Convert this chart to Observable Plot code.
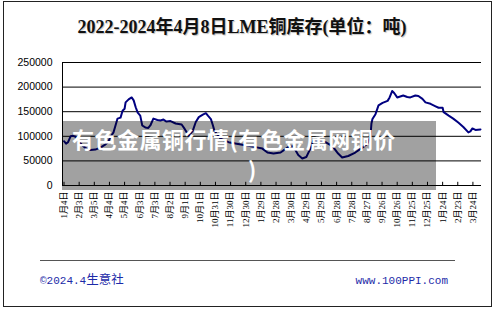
<!DOCTYPE html>
<html>
<head>
<meta charset="utf-8">
<script src="https://cdn.jsdelivr.net/npm/d3@7"></script>
<script src="https://cdn.jsdelivr.net/npm/@observablehq/plot@0.6"></script>
<style>
  html, body { margin: 0; padding: 0; background: #fff; }
  #wrap { position: relative; width: 500px; height: 312px; overflow: hidden; background: #fff; }
  #border { position: absolute; left: 3px; top: 1px; width: 489px; height: 306px; border: 1px solid #222; box-sizing: border-box; }
  #title { position: absolute; left: 3px; width: 478px; top: 17px; text-align: center;
    font: bold 18px/20px "Liberation Serif", "Noto Sans CJK SC", serif; color: #111;
    text-shadow: 1px 1px 1px rgba(0,0,0,0.25); }
  #chart { position: absolute; left: 0; top: 50px; }
  #wm { position: absolute; left: 62px; top: 121px; width: 374px; height: 69px;
    background: rgba(0,0,0,0.37); box-sizing: border-box; padding: 2px 0 0 10px;
    text-align: left; color: #fff; font: bold 22px/30px "Noto Sans CJK SC", sans-serif; letter-spacing: 0.5px; white-space: nowrap; }
  #rule { position: absolute; left: 40px; top: 260px; width: 415px; height: 0; border-top: 1px solid #555; }
  .foot { position: absolute; top: 274px; font: 11px/14px "Liberation Mono", "Noto Sans CJK SC", monospace; color: #1c2aa8; }
</style>
</head>
<body>
<div id="wrap">
  <div id="border"></div>
  <div id="title">2022-2024年4月8日LME铜库存(单位：吨)</div>
  <div id="chart"></div>
  <div id="wm">有色金属铜行情(有色金属网铜价<br><span style="margin-left:176px">)</span></div>
  <div id="rule"></div>
  <div class="foot" style="left:40px">©2024.4<span style="font-size:12.5px">生意社</span></div>
  <div class="foot" style="right:52px">www.100PPI.com</div>
</div>
<script>
const dates = [
"2022-01-04","2022-01-08","2022-01-12","2022-01-17","2022-01-22","2022-01-27","2022-02-02","2022-02-10","2022-02-16","2022-02-25",
"2022-03-07","2022-03-17","2022-03-25","2022-04-01","2022-04-07","2022-04-12","2022-04-16","2022-04-20","2022-04-26","2022-04-30",
"2022-05-04","2022-05-06","2022-05-12","2022-05-18","2022-05-22","2022-05-26","2022-05-30","2022-06-04","2022-06-08","2022-06-14",
"2022-06-20","2022-06-24","2022-06-30","2022-07-08","2022-07-14","2022-07-20","2022-07-26","2022-08-03","2022-08-13","2022-08-19",
"2022-08-25","2022-08-31","2022-09-04","2022-09-08","2022-09-16","2022-09-22","2022-09-28","2022-10-06","2022-10-12","2022-10-16",
"2022-10-22","2022-10-26","2022-10-29","2022-11-10","2022-11-26","2022-12-12","2022-12-29","2023-01-18","2023-02-01","2023-02-11",
"2023-02-23","2023-03-09","2023-03-24","2023-04-03","2023-04-13","2023-04-21","2023-04-29","2023-05-07","2023-05-13","2023-05-23",
"2023-06-06","2023-06-16","2023-06-22","2023-07-01","2023-07-09","2023-07-21","2023-08-04","2023-08-18","2023-08-28","2023-09-03",
"2023-09-05","2023-09-07","2023-09-13","2023-09-19","2023-09-27","2023-10-07","2023-10-11","2023-10-16","2023-10-20","2023-10-26",
"2023-11-01","2023-11-07","2023-11-15","2023-11-21","2023-12-01","2023-12-07","2023-12-15","2023-12-21","2023-12-31","2024-01-10",
"2024-01-16","2024-01-24","2024-01-26","2024-02-05","2024-02-14","2024-02-24","2024-03-05","2024-03-15","2024-03-19","2024-03-23",
"2024-03-29","2024-04-08"];
const stocks = [
90000,85000,88000,100000,101000,99000,90000,81000,76000,72000,
73000,77000,82000,88000,100000,108000,122000,136000,138000,152000,
156000,169000,175000,179000,173000,159000,148000,142000,122000,118000,
117000,122000,136000,133000,132000,134000,130000,131000,126000,125000,
124000,115000,108000,101000,111000,129000,139000,144000,147000,142000,
135000,122000,111000,95000,88000,85000,82000,78000,75000,67000,
65000,67000,78000,80000,62000,55000,58000,75000,92000,90000,
88000,82000,77000,65000,57000,60000,67000,77000,85000,100000,
126000,135000,145000,163000,168000,172000,179000,192000,188000,179000,
181000,183000,180000,179000,183000,182000,176000,169000,166000,161000,
158000,158000,149000,142000,136000,128000,119000,108000,110000,116000,
113000,114000];
const tickDateStr = ["2022-01-04","2022-02-03","2022-03-05","2022-04-04","2022-05-04","2022-06-03","2022-07-03","2022-08-02","2022-09-01","2022-10-01",
"2022-10-31","2022-11-30","2022-12-30","2023-01-29","2023-02-28","2023-03-30","2023-04-29","2023-05-29","2023-06-28","2023-07-28",
"2023-08-27","2023-09-26","2023-10-26","2023-11-25","2023-12-25","2024-01-24","2024-02-23","2024-03-24"];
const tickLabels = ["1月4日","2月3日","3月5日","4月4日","5月4日","6月3日","7月3日","8月2日","9月1日","10月1日",
"10月31日","11月30日","12月30日","1月29日","2月28日","3月30日","4月29日","5月29日","6月28日","7月28日",
"8月27日","9月26日","10月26日","11月25日","12月25日","1月24日","2月23日","3月24日"];
const yTicks = [0, 50000, 100000, 150000, 200000, 250000];

const data = dates.map((d, i) => ({date: new Date(d), value: stocks[i]}));
const tickDates = tickDateStr.map(d => new Date(d));
const labelOf = new Map(tickDates.map((d, i) => [+d, tickLabels[i]]));
const xStart = new Date("2022-01-01");

const chart = Plot.plot({
  width: 500, height: 200,
  marginLeft: 62, marginRight: 19, marginTop: 12, marginBottom: 65,
  x: {type: "utc", domain: [xStart, new Date("2024-04-10")]},
  y: {domain: [0, 250000]},
  style: {background: "transparent", color: "#000"},
  marks: [
    Plot.ruleY(yTicks, {stroke: "#000", strokeWidth: 1}),
    Plot.ruleX([xStart], {y1: () => 0, y2: () => 250000, stroke: "#000"}),
    Plot.ruleX(tickDates, {y1: () => 0, y2: () => 6500, stroke: "#000"}),
    Plot.line(data, {x: "date", y: "value", stroke: "#000080", strokeWidth: 2, strokeLinejoin: "round"}),
    Plot.axisY({ticks: yTicks, tickSize: 0, tickPadding: 10, label: null,
      tickFormat: d => String(d), fontSize: 10.5, fontFamily: "Liberation Sans, Arial, sans-serif"}),
    Plot.axisX({ticks: tickDates, tickSize: 0, tickPadding: 6, tickRotate: -90, label: null,
      tickFormat: d => labelOf.get(+d), fontSize: 9, fontFamily: "Liberation Serif, Noto Sans CJK SC, serif"})
  ]
});
document.getElementById("chart").appendChild(chart);
</script>
</body>
</html>
